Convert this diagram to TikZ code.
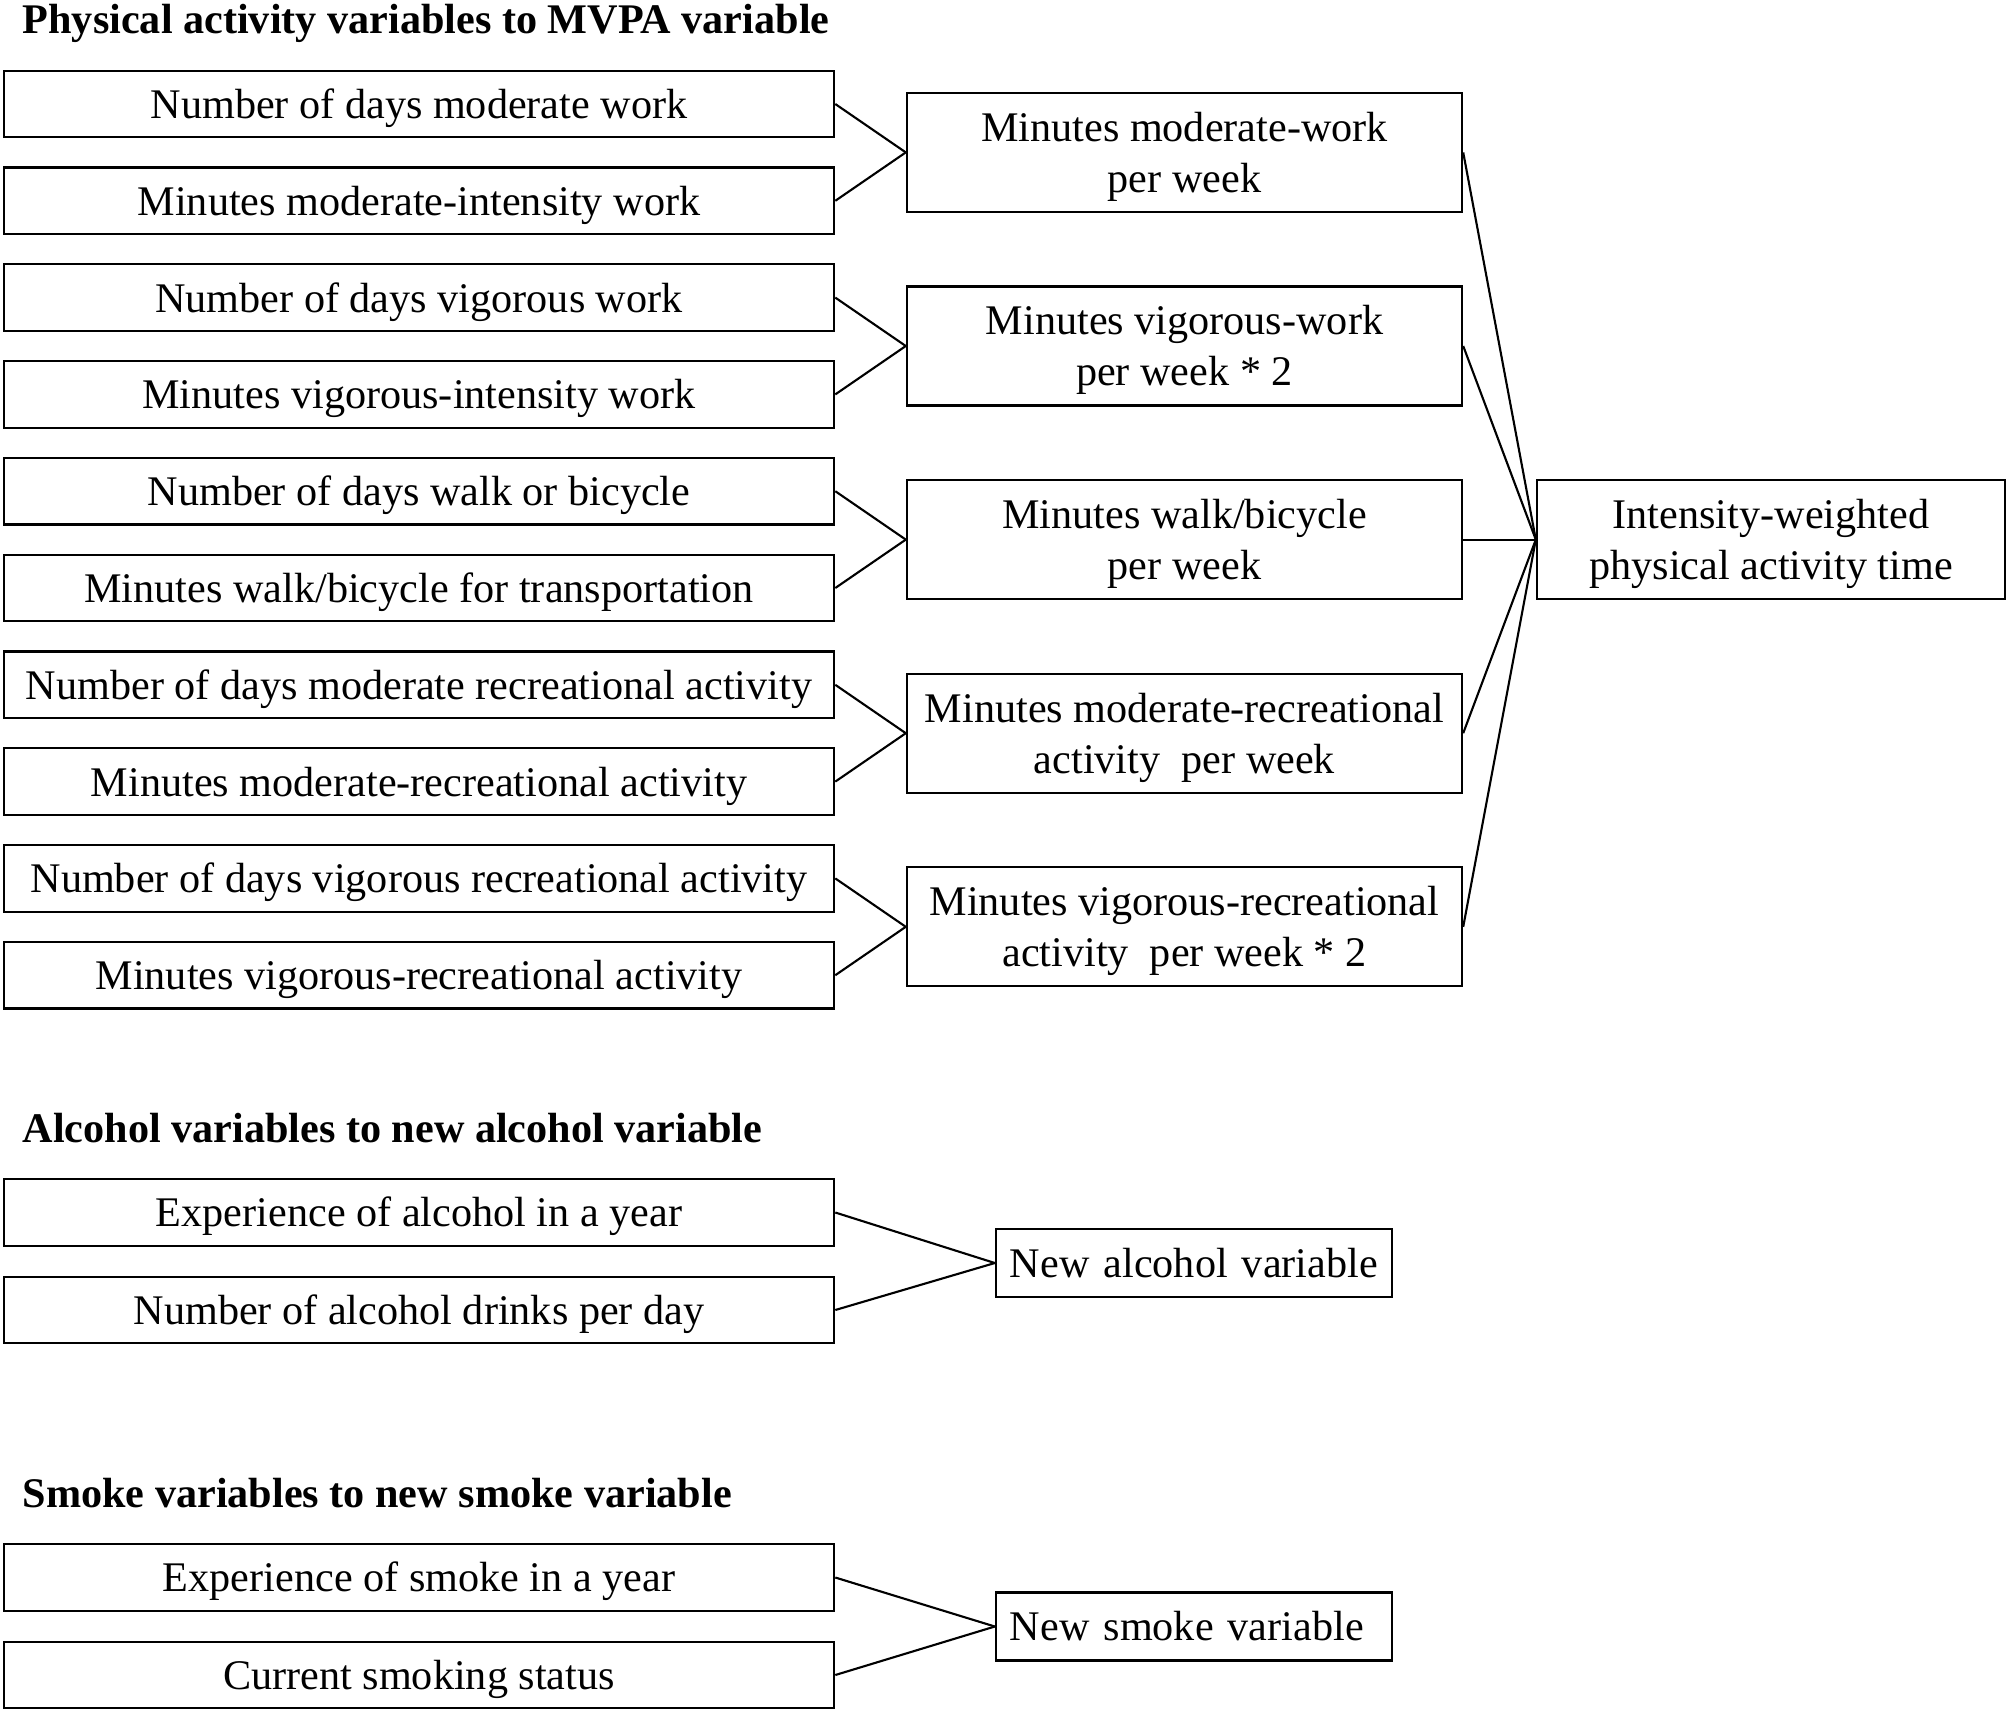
\documentclass[tikz,border=0pt]{standalone}
\usepackage{fontspec}
\setmainfont{Liberation Serif}
\usepackage{tikz}
\usetikzlibrary{calc}

\begin{document}
\begin{tikzpicture}[x=0.01cm,y=-0.01cm,
		box/.style={draw,line width=0.6pt,minimum width=8.3cm,minimum height=0.666cm,inner sep=0pt,text height=8.2pt,text depth=0pt,font=\fontsize{12}{14.5}\selectfont},
		mbox/.style={box,minimum width=5.55cm,minimum height=1.19cm,align=center,text height=22.7pt,text depth=0pt},
		nbox/.style={box,minimum width=3.96cm,minimum height=0.68cm,text width=3.68cm,align=left},
		head/.style={anchor=west,inner sep=0pt,text height=8.2pt,text depth=0pt,font=\fontsize{12}{14.5}\selectfont\bfseries},
		link/.style={line width=0.6pt}]
		\useasboundingbox (0,0) rectangle (2008,1714);
		% physical activity
		\node[head] (T0) at (22,19) {Physical activity variables to MVPA variable};
		\node[box] (L0) at (419,104) {Number of days moderate work};
		\node[box] (L1) at (419,200.8) {Minutes moderate-intensity work};
		\node[box] (L2) at (419,297.6) {Number of days vigorous work};
		\node[box] (L3) at (419,394.4) {Minutes vigorous-intensity work};
		\node[box] (L4) at (419,491.2) {Number of days walk or bicycle};
		\node[box] (L5) at (419,588) {Minutes walk/bicycle for transportation};
		\node[box] (L6) at (419,684.8) {Number of days moderate recreational activity};
		\node[box] (L7) at (419,781.6) {Minutes moderate-recreational activity};
		\node[box] (L8) at (419,878.4) {Number of days vigorous recreational activity};
		\node[box] (L9) at (419,975.2) {Minutes vigorous-recreational activity};
		\node[mbox] (M0) at (1184.5,152.4) {Minutes moderate-work\\per week};
		\node[mbox] (M1) at (1184.5,346) {Minutes vigorous-work\\per week * 2};
		\node[mbox] (M2) at (1184.5,539.6) {Minutes walk/bicycle\\per week};
		\node[mbox] (M3) at (1184.5,733.2) {Minutes moderate-recreational\\activity\ \ per week};
		\node[mbox] (M4) at (1184.5,926.8) {Minutes vigorous-recreational\\activity\ \ per week * 2};
		\node[mbox,minimum width=4.68cm] (R) at (1771,539.6) {Intensity-weighted\\physical activity time};
		\draw[link] (L0.east) to (M0.west);
		\draw[link] (L1.east) to (M0.west);
		\draw[link] (L2.east) to (M1.west);
		\draw[link] (L3.east) to (M1.west);
		\draw[link] (L4.east) to (M2.west);
		\draw[link] (L5.east) to (M2.west);
		\draw[link] (L6.east) to (M3.west);
		\draw[link] (L7.east) to (M3.west);
		\draw[link] (L8.east) to (M4.west);
		\draw[link] (L9.east) to (M4.west);
		\draw[link] (M0.east) to (R.west);
		\draw[link] (M1.east) to (R.west);
		\draw[link] (M2.east) to (R.west);
		\draw[link] (M3.east) to (R.west);
		\draw[link] (M4.east) to (R.west);
		% alcohol
		\node[head] (T1) at (22,1128) {Alcohol variables to new alcohol variable};
		\node[box] (A0) at (419,1212.5) {Experience of alcohol in a year};
		\node[box] (A1) at (419,1310) {Number of alcohol drinks per day};
		\node[nbox] (A2) at (1194,1263) {New alcohol variable};
		\draw[link] (A0.east) to (A2.west);
		\draw[link] (A1.east) to (A2.west);
		% smoke
		\node[head] (T2) at (22,1493) {Smoke variables to new smoke variable};
		\node[box] (S0) at (419,1577.5) {Experience of smoke in a year};
		\node[box] (S1) at (419,1675) {Current smoking status};
		\node[nbox] (S2) at (1194,1626.5) {New smoke variable};
		\draw[link] (S0.east) to (S2.west);
		\draw[link] (S1.east) to (S2.west);
\end{tikzpicture}
\end{document}
